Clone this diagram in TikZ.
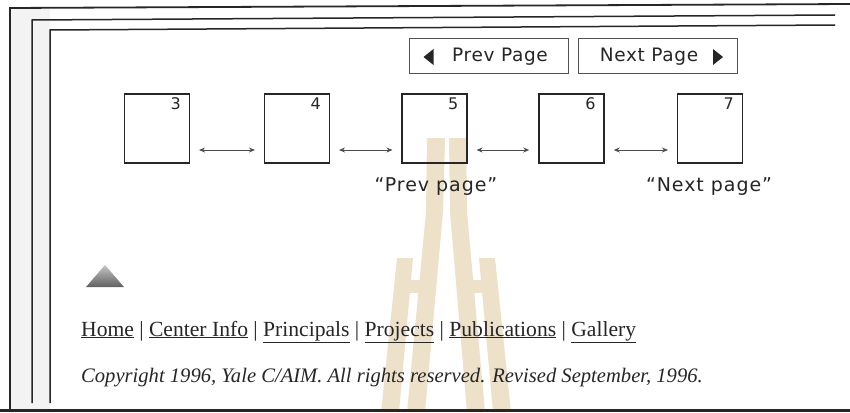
\documentclass[tikz,border=0pt]{standalone}
\usepackage{fontspec}
\setmainfont{Liberation Serif}
\newfontfamily\uifont[LetterSpace=3.5]{DejaVu Sans}
\newfontfamily\tagfont[LetterSpace=5]{DejaVu Sans}
\usetikzlibrary{arrows.meta,calc}

\definecolor{ink}{RGB}{38,38,38}
\definecolor{wmark}{RGB}{237,225,202}
\definecolor{strip}{RGB}{243,243,243}

\begin{document}
\begin{tikzpicture}[x=1pt,y=-1pt,
  frameline/.style={ink, line width=1.5pt},
  pagebox/.style={draw=ink, line width=1.1pt, minimum width=65pt,
    minimum height=69pt, inner sep=0pt},
  pagenum/.style={anchor=north east, inner sep=0pt, font=\uifont\fontsize{16}{16}\selectfont, text=ink},
  pagelink/.style={{Stealth[length=6pt,width=5pt]}-{Stealth[length=6pt,width=5pt]},
    gray!60!black, line width=0.9pt, shorten <=9pt, shorten >=9pt},
  navbutton/.style={draw=ink!80, line width=1pt, minimum width=159pt,
    minimum height=34pt, inner sep=0pt},
  navtext/.style={inner sep=0pt, font=\uifont\fontsize{18.5}{18.5}\selectfont, text=ink},
  tag/.style={inner sep=0pt, font=\tagfont\fontsize{19}{19}\selectfont, text=ink},
]
\useasboundingbox (0,0) rectangle (850,412);
\fill[white] (0,0) rectangle (850,412);
\fill[strip] (11,8) rectangle (50,410);

% background emblem
\begin{scope}[wmark]
  \fill (427,138) -- (445,138) -- (443,212) -- (425,412) -- (407,412) -- (426,212) -- cycle;
  \fill (449,138) -- (466,138) -- (467,212) -- (485,412) -- (467,412) -- (450,212) -- cycle;
  \fill (397,258) -- (413,258) -- (399,412) -- (381,412) -- cycle;
  \fill (479,258) -- (495,258) -- (511,412) -- (493,412) -- cycle;
  \fill (410,280) rectangle (430,293);
  \fill (462,280) rectangle (482,293);
\end{scope}

% window frames
\draw[frameline, line width=1.8pt] (10,410) -- (10,8) -- (850,4);
\draw[frameline] (32,403) -- (32,20) -- (835,15);
\draw[frameline] (50,403) -- (50,30) -- (835,25);
\draw[ink, line width=3pt] (0,410.5) -- (850,410.5);

% navigation buttons
\node[navbutton] (prev) at (488.5,56) {};
\node[navbutton] (next) at (658,56) {};
\fill[ink] ($(prev.west)+(15,1)$) -- ++(10,-8) -- ++(0,16) -- cycle;
\fill[ink] ($(next.east)+(-15,1)$) -- ++(-10,-8) -- ++(0,16) -- cycle;
\node[navtext] (prevtext) at (500,57) {Prev Page};
\node[navtext] (nexttext) at (649,57) {Next Page};

% page boxes
\node[pagebox] (p3) at (157,128.5) {};
\node[pagebox] (p4) at (297,128.5) {};
\node[pagebox] (p5) at (434.5,128.5) {};
\node[pagebox, line width=1.5pt] (p6) at (571.5,128.5) {};
\node[pagebox] (p7) at (710,128.5) {};
\foreach \p/\n in {p3/3,p4/4,p5/5,p6/6,p7/7}
  \node[pagenum] (\p num) at ([xshift=-9pt,yshift=-4pt]\p.north east) {\n};

% links between pages
\draw[pagelink] ([yshift=-21.5pt]p3.east) -- ([yshift=-21.5pt]p4.west);
\draw[pagelink] ([yshift=-21.5pt]p4.east) -- ([yshift=-21.5pt]p5.west);
\draw[pagelink] ([yshift=-21.5pt]p5.east) -- ([yshift=-21.5pt]p6.west);
\draw[pagelink] ([yshift=-21.5pt]p6.east) -- ([yshift=-21.5pt]p7.west);

\node[tag] (prevtag) at (436,187) {“Prev page”};
\node[tag] (nexttag) at (709,187) {“Next page”};

% back-to-top arrow
\shade[top color=gray!45, bottom color=gray!75!black] (105,265) -- (124,287) -- (86,287) -- cycle;

% footer
\node[anchor=base west, inner sep=0pt, text=ink, font=\fontsize{21.6}{21.6}\selectfont] (links) at (81,336)
  {\underline{Home} | \underline{Center Info} | \underline{Principals} | \underline{Projects} | \underline{Publications} | \underline{Gallery}};
\node[anchor=base west, inner sep=0pt, text=ink, font=\fontsize{20.6}{20.6}\selectfont\itshape] (copyright) at (81,382)
  {Copyright 1996, Yale C/AIM. All rights reserved. Revised September, 1996.};
\end{tikzpicture}
\end{document}
